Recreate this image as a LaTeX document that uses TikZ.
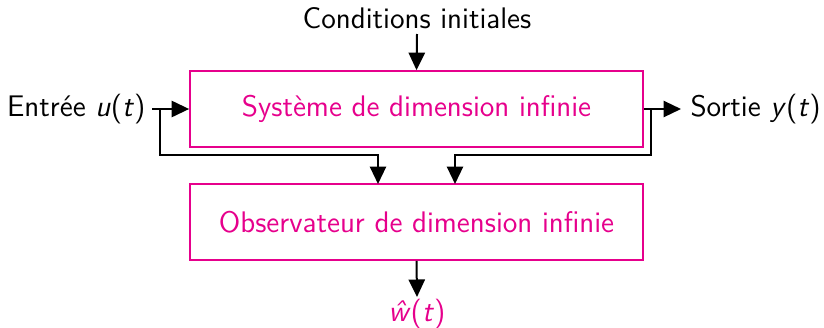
\documentclass[tikz,border=0pt]{standalone}
\usetikzlibrary{arrows.meta,calc}
\definecolor{mag}{RGB}{230,0,140}
\begin{document}
\begin{tikzpicture}[x=0.4pt,y=-0.4pt,font=\sffamily\fontsize{11.9}{14}\selectfont,
  blk/.style={draw=mag,line width=0.7pt,text=mag,minimum width=181.2pt,minimum height=30.4pt,inner sep=0pt},
  sig/.style={line width=0.8pt,-{Triangle[length=7pt,width=6.5pt]}}]
\useasboundingbox (0,0) rectangle (824,327);
\node[blk] (sys) at (416.5,109) {Système de dimension infinie};
\node[blk] (obs) at (416.5,222) {Observateur de dimension infinie};
\node[anchor=base] (ci) at (417,28) {Conditions initiales};
\node[anchor=east,inner sep=0pt] (in) at (146,109) {Entrée \textit{u}(\textit{t})};
\node[anchor=west,inner sep=0pt] (out) at (690,109) {Sortie \textit{y}(\textit{t})};
\node[text=mag,anchor=base] (w) at (417,321) {\textit{\^w}(\textit{t})};
\coordinate (jl) at (160,109);
\coordinate (jr) at (651,109);
\draw[sig] (ci.south |- 0,34) -- (sys.north);
\draw[sig] ($(in.east)+(6,0)$) -- (sys.west);
\draw[sig] (sys.east) -- ($(out.west)+(-9,0)$);
\draw[sig] (jl) -- (160,155) -- (378,155) -- (378,184);
\draw[sig] (jr) -- (651,155) -- (455,155) -- (455,184);
\draw[sig] (obs.south) -- (417,297);
\end{tikzpicture}
\end{document}
